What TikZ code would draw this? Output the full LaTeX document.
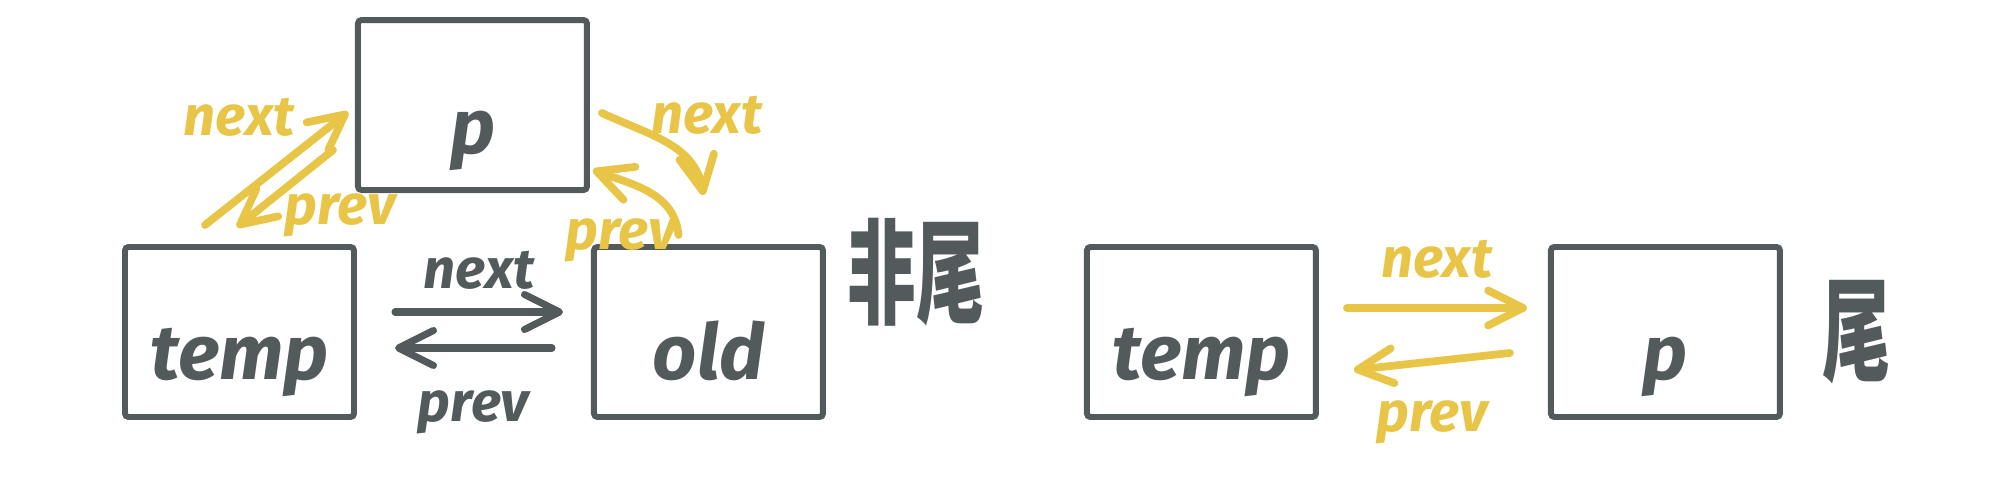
\documentclass[tikz,border=0pt]{standalone}
\usepackage{fontspec}
\setmainfont{Fira Sans}
\newfontfamily\cjk{Noto Sans CJK SC}
\usetikzlibrary{arrows.meta,positioning}
\definecolor{inkgrey}{RGB}{82,90,91}
\definecolor{inkyellow}{RGB}{232,197,71}
\tikzset{
  listbox/.style={
    rectangle,
    rounded corners=1pt,
    draw=inkgrey,
    line width=1.7pt,
    minimum width=2.29cm,
    minimum height=1.70cm,
    text height=1.1cm,
    text depth=0.14cm,
    inner sep=0pt,
    text=inkgrey,
    font=\fontsize{22}{26}\selectfont\bfseries\itshape
  },
  ptrlabel/.style={
    inner sep=0pt,
    font=\fontsize{16}{18}\selectfont\bfseries\itshape
  },
  greyline/.style={-{Straight Barb[length=3.5mm,width=3.5mm,round]},line width=2pt,line cap=round,draw=inkgrey,text=inkgrey},
  yellowline/.style={-{Straight Barb[length=3.5mm,width=3.5mm,round]},line width=2.2pt,line cap=round,draw=inkyellow,text=inkyellow},
  sidenote/.style={
    inner sep=0pt,
    text=inkgrey,
    xscale=0.75,
    yscale=1.25,
    font=\fontsize{26}{28}\selectfont\cjk\bfseries
  }
}
\begin{document}
\begin{tikzpicture}
  \useasboundingbox (0,0) rectangle (20,-4.89);
  % case 1: p goes between temp and old
  \node[listbox] (temp) at (2.395,-3.32) {temp};
  \node[listbox, right=2.34cm of temp] (old) {old};
  \node[listbox, above right=0.51cm and -0.02cm of temp] (p) {p};
  \node[sidenote] (notlast) at (9.16,-2.72) {非尾};
  % case 2: p goes after temp
  \node[listbox, right=2.58cm of old] (temp2) {temp};
  \node[listbox, right=2.29cm of temp2] (p2) {p};
  \node[sidenote] (last) at (18.57,-3.32) {尾};

  \draw[greyline] ([shift={(0.38,0.20)}]temp.east) -- node[ptrlabel, above=0.19cm] (nextA) {next} ([shift={(-0.28,0.20)}]old.west);
  \draw[greyline] ([shift={(-0.39,-0.16)}]old.west) -- node[ptrlabel, below=0.39cm] (prevA) {prev} ([shift={(0.38,-0.16)}]temp.east);

  \draw[yellowline] ([shift={(-0.345,0.19)}]temp.north) -- node[ptrlabel, xshift=-0.375cm, yshift=0.515cm] (nextB) {next} ([shift={(-0.07,-0.07)}]p.west);
  \draw[yellowline] ([shift={(-0.22,-0.45)}]p.west) -- node[ptrlabel, xshift=0.55cm, yshift=-0.265cm] (prevB) {prev} ([shift={(-0.025,0.17)}]temp.north);

  \draw[yellowline] ([shift={(0.12,-0.08)}]p.east) to[out=-25,in=100] node[ptrlabel, xshift=0.40cm, yshift=0.28cm] (nextC) {next} ([shift={(-0.05,0.49)}]old.north);
  \draw[yellowline] ([shift={(-0.30,0.09)}]old.north) to[out=95,in=-20] node[ptrlabel, xshift=-0.28cm, yshift=-0.48cm] (prevC) {prev} ([shift={(0.03,0.23)}]p.south east);

  \draw[yellowline] ([shift={(0.28,0.24)}]temp2.east) -- node[ptrlabel, above=0.26cm] (nextD) {next} ([shift={(-0.21,0.24)}]p2.west);
  \draw[yellowline] ([shift={(-0.38,-0.21)}]p2.west) -- node[ptrlabel, below=0.35cm] (prevD) {prev} ([shift={(0.35,-0.38)}]temp2.east);
\end{tikzpicture}
\end{document}
